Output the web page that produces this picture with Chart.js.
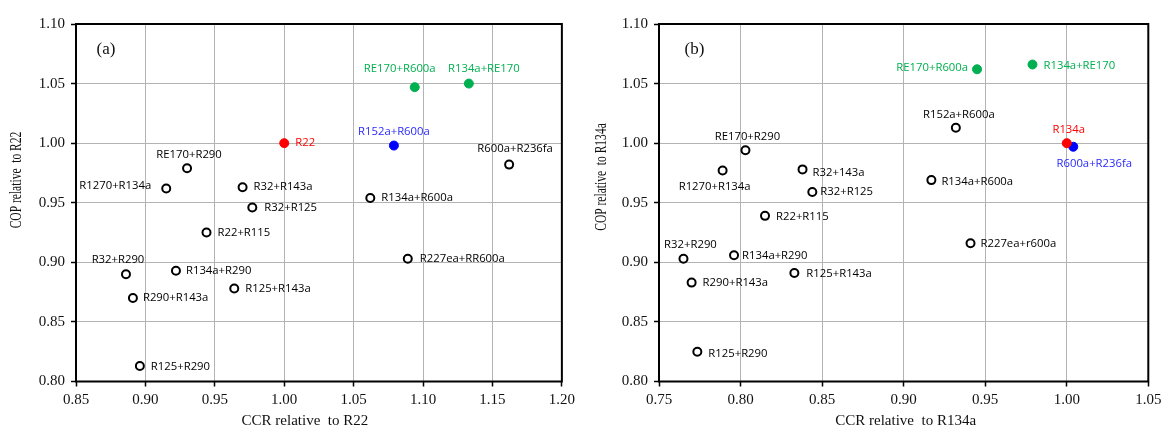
<!DOCTYPE html>
<html>
<head>
<meta charset="utf-8">
<script src="https://cdn.jsdelivr.net/npm/chart.js@4.4.1/dist/chart.umd.min.js"></script>
<style>
  html, body { margin: 0; padding: 0; background: #fff; }
  #wrap { position: relative; width: 1167px; height: 430px; }
  #ca { position: absolute; left: 0; top: 0; }
  #cb { position: absolute; left: 580px; top: 0; }
</style>
</head>
<body>
<div id="wrap">
  <canvas id="ca" width="580" height="430"></canvas>
  <canvas id="cb" width="587" height="430"></canvas>
</div>
<script>
// ---------- Panel (a): relative to R22 ----------
const aNames = ["R22", "RE170+R600a", "R134a+RE170", "R152a+R600a", "R600a+R236fa", "R134a+R600a",
  "RE170+R290", "R1270+R134a", "R32+R143a", "R32+R125", "R22+R115", "R32+R290", "R134a+R290",
  "R290+R143a", "R125+R143a", "R125+R290", "R227ea+RR600a"];
const aCCR = [1.000, 1.094, 1.133, 1.079, 1.162, 1.062, 0.930, 0.915, 0.970, 0.977, 0.944, 0.886, 0.922,
  0.891, 0.964, 0.896, 1.089];
const aCOP = [1.000, 1.047, 1.050, 0.998, 0.982, 0.954, 0.979, 0.962, 0.963, 0.946, 0.925, 0.890, 0.893,
  0.870, 0.878, 0.813, 0.903];
const aGroup = ["red", "green", "green", "blue", "open", "open", "open", "open", "open", "open", "open",
  "open", "open", "open", "open", "open", "open"];
const aXTicks = [0.85, 0.90, 0.95, 1.00, 1.05, 1.10, 1.15, 1.20];
const aYTicks = [0.80, 0.85, 0.90, 0.95, 1.00, 1.05, 1.10];

// ---------- Panel (b): relative to R134a ----------
const bNames = ["R134a", "R600a+R236fa", "RE170+R600a", "R134a+RE170", "R152a+R600a", "R134a+R600a",
  "R227ea+r600a", "RE170+R290", "R1270+R134a", "R32+143a", "R32+R125", "R22+R115", "R32+R290",
  "R134a+R290", "R290+R143a", "R125+R143a", "R125+R290"];
const bCCR = [1.000, 1.004, 0.945, 0.979, 0.932, 0.917, 0.941, 0.803, 0.789, 0.838, 0.844, 0.815, 0.765,
  0.796, 0.770, 0.833, 0.7735];
const bCOP = [1.000, 0.997, 1.062, 1.066, 1.013, 0.969, 0.916, 0.994, 0.977, 0.978, 0.959, 0.939, 0.903,
  0.906, 0.883, 0.891, 0.825];
const bGroup = ["red", "blue", "green", "green", "open", "open", "open", "open", "open", "open", "open",
  "open", "open", "open", "open", "open", "open"];
const bXTicks = [0.75, 0.80, 0.85, 0.90, 0.95, 1.00, 1.05];
const bYTicks = [0.80, 0.85, 0.90, 0.95, 1.00, 1.05, 1.10];

// ---------- label placement (layout only: dx, dy, alignment) ----------
const aLabelPlace = [[11,0,"left"],[-15,-18,"center"],[15,-15,"center"],[0,-14,"center"],[6,-16,"center"],
  [11,0,"left"],[2,-13,"center"],[-15,-3,"right"],[11,0,"left"],[12,0,"left"],[11,0,"left"],
  [-8,-14,"center"],[10,0,"left"],[10,0,"left"],[11,0,"left"],[11,1,"left"],[12,0,"left"]];
const bLabelPlace = [[2,-13,"center"],[21,17,"center"],[-9,-2,"right"],[11,1,"left"],[3,-13,"center"],
  [10,2,"left"],[10,1,"left"],[2,-14,"center"],[-8,16,"center"],[10,3,"left"],[8,0,"left"],
  [11,1,"left"],[7,-14,"center"],[8,1,"left"],[11,0,"left"],[12,1,"left"],[11,2,"left"]];

const markerColor = { open: "#000000", green: "#00b050", red: "#ff0000", blue: "#0000ff" };
const labelColor = { open: "#000000", green: "#00b050", red: "#ff0000", blue: "#2a2aff" };

function buildDatasets(names, xs, ys, groups, place) {
  const order = ["open", "green", "red", "blue"];
  return order.map(g => {
    const pts = [];
    names.forEach((n, i) => {
      if (groups[i] === g) pts.push({ x: xs[i], y: ys[i], name: n, place: place[i] });
    });
    const open = g === "open";
    return {
      label: g,
      group: g,
      data: pts,
      pointRadius: open ? 4 : 4.5,
      pointHoverRadius: open ? 4 : 4.5,
      pointBorderWidth: open ? 2 : 1,
      pointBorderColor: markerColor[g],
      pointBackgroundColor: open ? "#ffffff" : markerColor[g],
      showLine: false
    };
  }).filter(d => d.data.length);
}

const decoPlugin = {
  id: "deco",
  afterDatasetsDraw(chart, args, opts) {
    const ctx = chart.ctx;
    ctx.save();
    ctx.font = "11.3px 'Open Sans'";
    ctx.textBaseline = "middle";
    chart.data.datasets.forEach((ds, di) => {
      const meta = chart.getDatasetMeta(di);
      ds.data.forEach((p, j) => {
        const el = meta.data[j];
        ctx.fillStyle = labelColor[ds.group];
        ctx.textAlign = p.place[2];
        ctx.fillText(p.name, el.x + p.place[0], el.y + p.place[1]);
      });
    });
    ctx.restore();
  },
  afterDraw(chart, args, opts) {
    const ctx = chart.ctx;
    const a = chart.chartArea;
    ctx.save();
    ctx.strokeStyle = "#000";
    ctx.lineWidth = 2;
    ctx.strokeRect(a.left, a.top, a.right - a.left, a.bottom - a.top);
    ctx.fillStyle = "#111";
    ctx.textAlign = "center";
    ctx.textBaseline = "middle";
    ctx.font = "17px 'Liberation Serif'";
    ctx.fillText(opts.panel, a.left + opts.panelDx, 50);
    ctx.font = "15px 'Liberation Serif'";
    ctx.fillText(opts.xTitle, (a.left + a.right) / 2 + opts.xTitleDx, 421);
    ctx.save();
    ctx.translate(opts.yTitleX, opts.yTitleY);
    ctx.rotate(-Math.PI / 2);
    ctx.scale(0.72, 1);
    ctx.font = "16px 'Liberation Serif'";
    ctx.fillText(opts.yTitle, 0, 0);
    ctx.restore();
    ctx.restore();
  }
};

function makeChart(id, names, xs, ys, groups, place, xTicks, yTicks, yWidth, padRight, deco) {
  const tickFont = { family: "'Liberation Serif'", size: 15 };
  return new Chart(document.getElementById(id), {
    type: "scatter",
    data: { datasets: buildDatasets(names, xs, ys, groups, place) },
    options: {
      responsive: false,
      animation: false,
      events: [],
      layout: { padding: { top: 24, right: padRight, left: 0, bottom: 0 } },
      plugins: { legend: { display: false }, tooltip: { enabled: false }, deco: deco },
      scales: {
        x: {
          type: "linear",
          min: xTicks[0], max: xTicks[xTicks.length - 1],
          afterBuildTicks: s => { s.ticks = xTicks.map(v => ({ value: v })); },
          afterFit: s => { s.height = 48.5; },
          ticks: { font: tickFont, color: "#111", padding: 5, maxRotation: 0,
                   callback: v => Number(v).toFixed(2) },
          grid: { color: "#b3b3b3", lineWidth: 1, tickLength: 5, tickColor: "#000", tickWidth: 1.5 },
          border: { display: false }
        },
        y: {
          type: "linear",
          min: yTicks[0], max: yTicks[yTicks.length - 1],
          afterBuildTicks: s => { s.ticks = yTicks.map(v => ({ value: v })); },
          afterFit: s => { s.width = yWidth; },
          ticks: { font: tickFont, color: "#111", padding: 6,
                   callback: v => Number(v).toFixed(2) },
          grid: { color: "#b3b3b3", lineWidth: 1, tickLength: 5, tickColor: "#000", tickWidth: 1.5 },
          border: { display: false }
        }
      }
    },
    plugins: [decoPlugin]
  });
}

makeChart("ca", aNames, aCCR, aCOP, aGroup, aLabelPlace, aXTicks, aYTicks, 76, 17,
  { panel: "(a)", panelDx: 30, xTitle: "CCR relative  to R22", xTitleDx: -14,
    yTitle: "COP relative  to R22", yTitleX: 17, yTitleY: 180 });
makeChart("cb", bNames, bCCR, bCOP, bGroup, bLabelPlace, bXTicks, bYTicks, 79, 18.7,
  { panel: "(b)", panelDx: 35.5, xTitle: "CCR relative  to R134a", xTitleDx: 2,
    yTitle: "COP relative  to R134a", yTitleX: 22, yTitleY: 177 });
</script>
</body>
</html>
